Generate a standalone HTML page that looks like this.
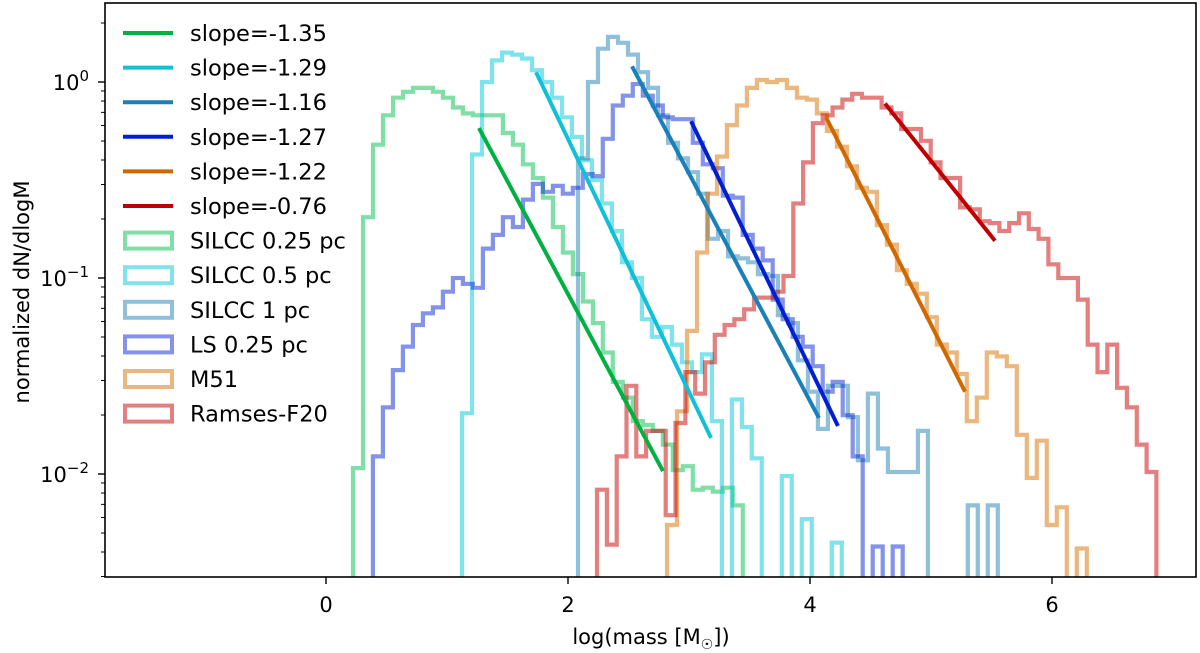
<!DOCTYPE html>
<html><head><meta charset="utf-8"><style>
html,body{margin:0;padding:0;background:#fff;}
svg{display:block;font-family:"DejaVu Sans","Liberation Sans",sans-serif;}
</style></head><body>
<svg id="chart" width="1200" height="653" viewBox="0 0 1200 653" xmlns="http://www.w3.org/2000/svg">
<defs><clipPath id="plotclip"><rect x="105" y="3" width="1091" height="574"/></clipPath></defs>
<rect x="0" y="0" width="1200" height="653" fill="#fff"/>
<g id="hists" clip-path="url(#plotclip)"></g>
<g id="fits" clip-path="url(#plotclip)"></g>
<rect x="105" y="3" width="1091" height="574" fill="none" stroke="#000" stroke-width="1.6"/>
<g id="axes"></g>
<text x="651" y="644" font-size="21" text-anchor="middle">log(mass [M<tspan font-size="14" dy="5">☉</tspan><tspan dy="-5">])</tspan></text>
<text transform="translate(29,292) rotate(-90)" font-size="21" text-anchor="middle">normalized dN/dlogM</text>
<g id="legend"></g>
</svg>
<script>
// ---- data (log10 of normalized dN/dlogM per bin) ----
const seriesNames = ["SILCC 0.25 pc","SILCC 0.5 pc","SILCC 1 pc","LS 0.25 pc","M51","Ramses-F20"];
const binStarts = [0.223, 1.124, 2.083, 0.388, 2.818, 2.24];
const binWidths = [0.0826, 0.0826, 0.0826, 0.0826, 0.0826, 0.0811];
const silcc025 = [-1.97,-0.69,-0.32,-0.17,-0.08,-0.05,-0.03,-0.03,-0.05,-0.08,-0.13,-0.16,-0.17,-0.17,-0.17,-0.26,-0.32,-0.42,-0.49,-0.59,-0.74,-0.87,-0.98,-1.12,-1.23,-1.38,-1.53,-1.61,-1.73,-1.75,-1.78,-1.85,-1.98,-1.96,-2.08,-2.07,-2.09,-2.07,-2.16];
const silcc05 = [-1.69,-0.37,0.0,0.11,0.15,0.14,0.12,0.06,0.0,-0.08,-0.18,-0.28,-0.4,-0.5,-0.62,-0.76,-0.92,-1.0,-1.21,-1.3,-1.25,-1.34,-1.43,-1.48,-1.39,-1.73,-3,-1.62,-1.76,-1.92,-3,-3,-2.01,-3,-2.23,-3,-3,-2.35,-3];
const silcc1 = [-0.39,0.0,0.17,0.23,0.2,0.14,0.05,-0.03,-0.17,-0.31,-0.39,-0.46,-0.57,-0.8,-0.76,-0.89,-0.9,-0.92,-0.98,-0.99,-1.19,-1.23,-1.42,-1.58,-1.77,-1.55,-1.55,-1.71,-1.93,-1.59,-1.87,-1.99,-1.99,-1.99,-1.78,-3,-3,-3,-3,-2.16,-3,-2.16,-3];
const ls025 = [-1.91,-1.66,-1.47,-1.35,-1.24,-1.18,-1.15,-1.07,-1.0,-1.03,-1.05,-0.85,-0.78,-0.69,-0.74,-0.6,-0.52,-0.56,-0.53,-0.57,-0.54,-0.47,-0.48,-0.29,-0.12,-0.07,-0.01,-0.07,-0.12,-0.18,-0.19,-0.19,-0.31,-0.42,-0.44,-0.58,-0.59,-0.78,-0.85,-0.91,-1.11,-1.21,-1.3,-1.35,-1.45,-1.58,-1.53,-1.7,-1.91,-3,-2.37,-3,-2.37,-3];
const m51 = [-2.26,-1.68,-1.27,-0.87,-0.57,-0.38,-0.22,-0.12,-0.03,0.01,0.0,0.01,-0.03,-0.08,-0.09,-0.16,-0.25,-0.33,-0.43,-0.54,-0.56,-0.73,-0.83,-0.96,-1.03,-1.08,-1.2,-1.34,-1.38,-1.49,-1.73,-1.61,-1.38,-1.4,-1.45,-1.8,-2.02,-1.83,-2.26,-2.17,-3,-2.38,-3];
const ramses = [-2.08,-2.36,-1.91,-1.55,-1.91,-1.78,-1.78,-2.21,-1.74,-1.48,-1.59,-1.43,-1.29,-1.24,-1.21,-1.16,-1.1,-1.1,-1.07,-0.99,-0.62,-0.41,-0.21,-0.17,-0.13,-0.09,-0.06,-0.08,-0.08,-0.13,-0.16,-0.24,-0.24,-0.3,-0.41,-0.49,-0.49,-0.64,-0.65,-0.71,-0.72,-0.76,-0.72,-0.67,-0.75,-0.8,-0.93,-1.0,-1.0,-1.11,-1.34,-1.48,-1.34,-1.56,-1.66,-1.85,-1.99];
const histColors = ["#00c050","#00c8dc","#1f80b4","#0a28d4","#d87000","#c80000"];
// fit lines
const fitLabels = ["slope=-1.35","slope=-1.29","slope=-1.16","slope=-1.27","slope=-1.22","slope=-0.76"];
const fitX0 = [1.264, 1.736, 2.529, 3.017, 4.132, 4.62];
const fitX1 = [2.785, 3.182, 4.074, 4.231, 5.281, 5.529];
const fitY0 = [-0.235, 0.05, 0.08, -0.2, -0.18, -0.11];
const fitY1 = [-1.985, -1.816, -1.714, -1.755, -1.58, -0.81];
const fitColors = ["#00b040","#10c0d8","#1a80b8","#0020d0","#d06800","#c00000"];
const xTicks = [0, 2, 4, 6];
const yDecades = [0, -1, -2];
const yDecadeLabels = ["0", "\u22121", "\u22122"];

// ---- axis functions ----
const NS = "http://www.w3.org/2000/svg";
function X(v){ return 326 + 121 * v; }
const YBOT = 577;
function Y(l){ return Math.min(YBOT + 10, 82 - 196 * l); }
function mk(tag, attrs, parent){
  const e = document.createElementNS(NS, tag);
  for (const k in attrs) e.setAttribute(k, attrs[k]);
  parent.appendChild(e);
  return e;
}
const hists = document.getElementById("hists");
const allSeries = [silcc025, silcc05, silcc1, ls025, m51, ramses];
allSeries.forEach((vals, s) => {
  const x0 = binStarts[s], w = binWidths[s];
  let d = "M" + X(x0).toFixed(1) + "," + (YBOT + 10);
  vals.forEach((v, i) => {
    const xa = X(x0 + i * w), xb = X(x0 + (i + 1) * w), y = Y(v);
    d += " L" + xa.toFixed(1) + "," + y.toFixed(1) + " L" + xb.toFixed(1) + "," + y.toFixed(1);
  });
  d += " L" + X(x0 + vals.length * w).toFixed(1) + "," + (YBOT + 10);
  const p = mk("path", {d: d, fill: "none", stroke: histColors[s], "stroke-width": 4.2, "stroke-opacity": 0.5, "stroke-linejoin": "miter"}, hists);
  
  
});
const fits = document.getElementById("fits");
fitLabels.forEach((lab, i) => {
  const l = mk("line", {x1: X(fitX0[i]), y1: Y(fitY0[i]), x2: X(fitX1[i]), y2: Y(fitY1[i]), stroke: fitColors[i], "stroke-width": 4}, fits);
  
  
});
// axes
const axes = document.getElementById("axes");
xTicks.forEach(t => {
  const tk = mk("line", {x1: X(t), y1: YBOT, x2: X(t), y2: YBOT + 7, stroke: "#000", "stroke-width": 1.4}, axes);
  
  
  const tx = mk("text", {x: X(t), y: 612, "font-size": 21, "text-anchor": "middle"}, axes);
  tx.textContent = String(t);
  
  
});
yDecades.forEach((dcd, i) => {
  const y = Y(dcd);
  const tk = mk("line", {x1: 98, y1: y, x2: 105, y2: y, stroke: "#000", "stroke-width": 1.4}, axes);
  
  
  const tx = mk("text", {x: 89, y: y + 8, "font-size": 21, "text-anchor": "end"}, axes);
  
  
  const a = document.createElementNS(NS, "tspan"); a.textContent = "10"; tx.appendChild(a);
  const b = document.createElementNS(NS, "tspan"); b.setAttribute("dy", "-9"); b.setAttribute("font-size", "15"); b.textContent = yDecadeLabels[i]; tx.appendChild(b);
});
for (let dcd = -3; dcd <= 0; dcd++) {
  for (let m = 2; m <= 9; m++) {
    const l = dcd + Math.log10(m);
    const y = 82 - 196 * l;
    if (y < 3 || y > YBOT) continue;
    const tk = mk("line", {x1: 101, y1: y, x2: 105, y2: y, stroke: "#000", "stroke-width": 1}, axes);
    
    
  }
}
// legend
const lg = document.getElementById("legend");
const rowYs = [];
for (let i = 0; i < 12; i++) rowYs.push(33 + i * 34.6);
fitLabels.forEach((lab, i) => {
  const l = mk("line", {x1: 123, y1: rowYs[i], x2: 173, y2: rowYs[i], stroke: fitColors[i], "stroke-width": 4}, lg);
  
  
  const t = mk("text", {x: 190, y: rowYs[i] + 8, "font-size": 22.5}, lg);
  t.textContent = lab;
  
  
});
seriesNames.forEach((nm, s) => {
  const y = rowYs[6 + s];
  const r = mk("rect", {x: 125, y: y - 8, width: 47, height: 16, fill: "none", stroke: histColors[s], "stroke-opacity": 0.5, "stroke-width": 4}, lg);
  
  
  const t = mk("text", {x: 190, y: y + 8, "font-size": 22.5}, lg);
  t.textContent = nm;
  
  
});
</script>
</body></html>
